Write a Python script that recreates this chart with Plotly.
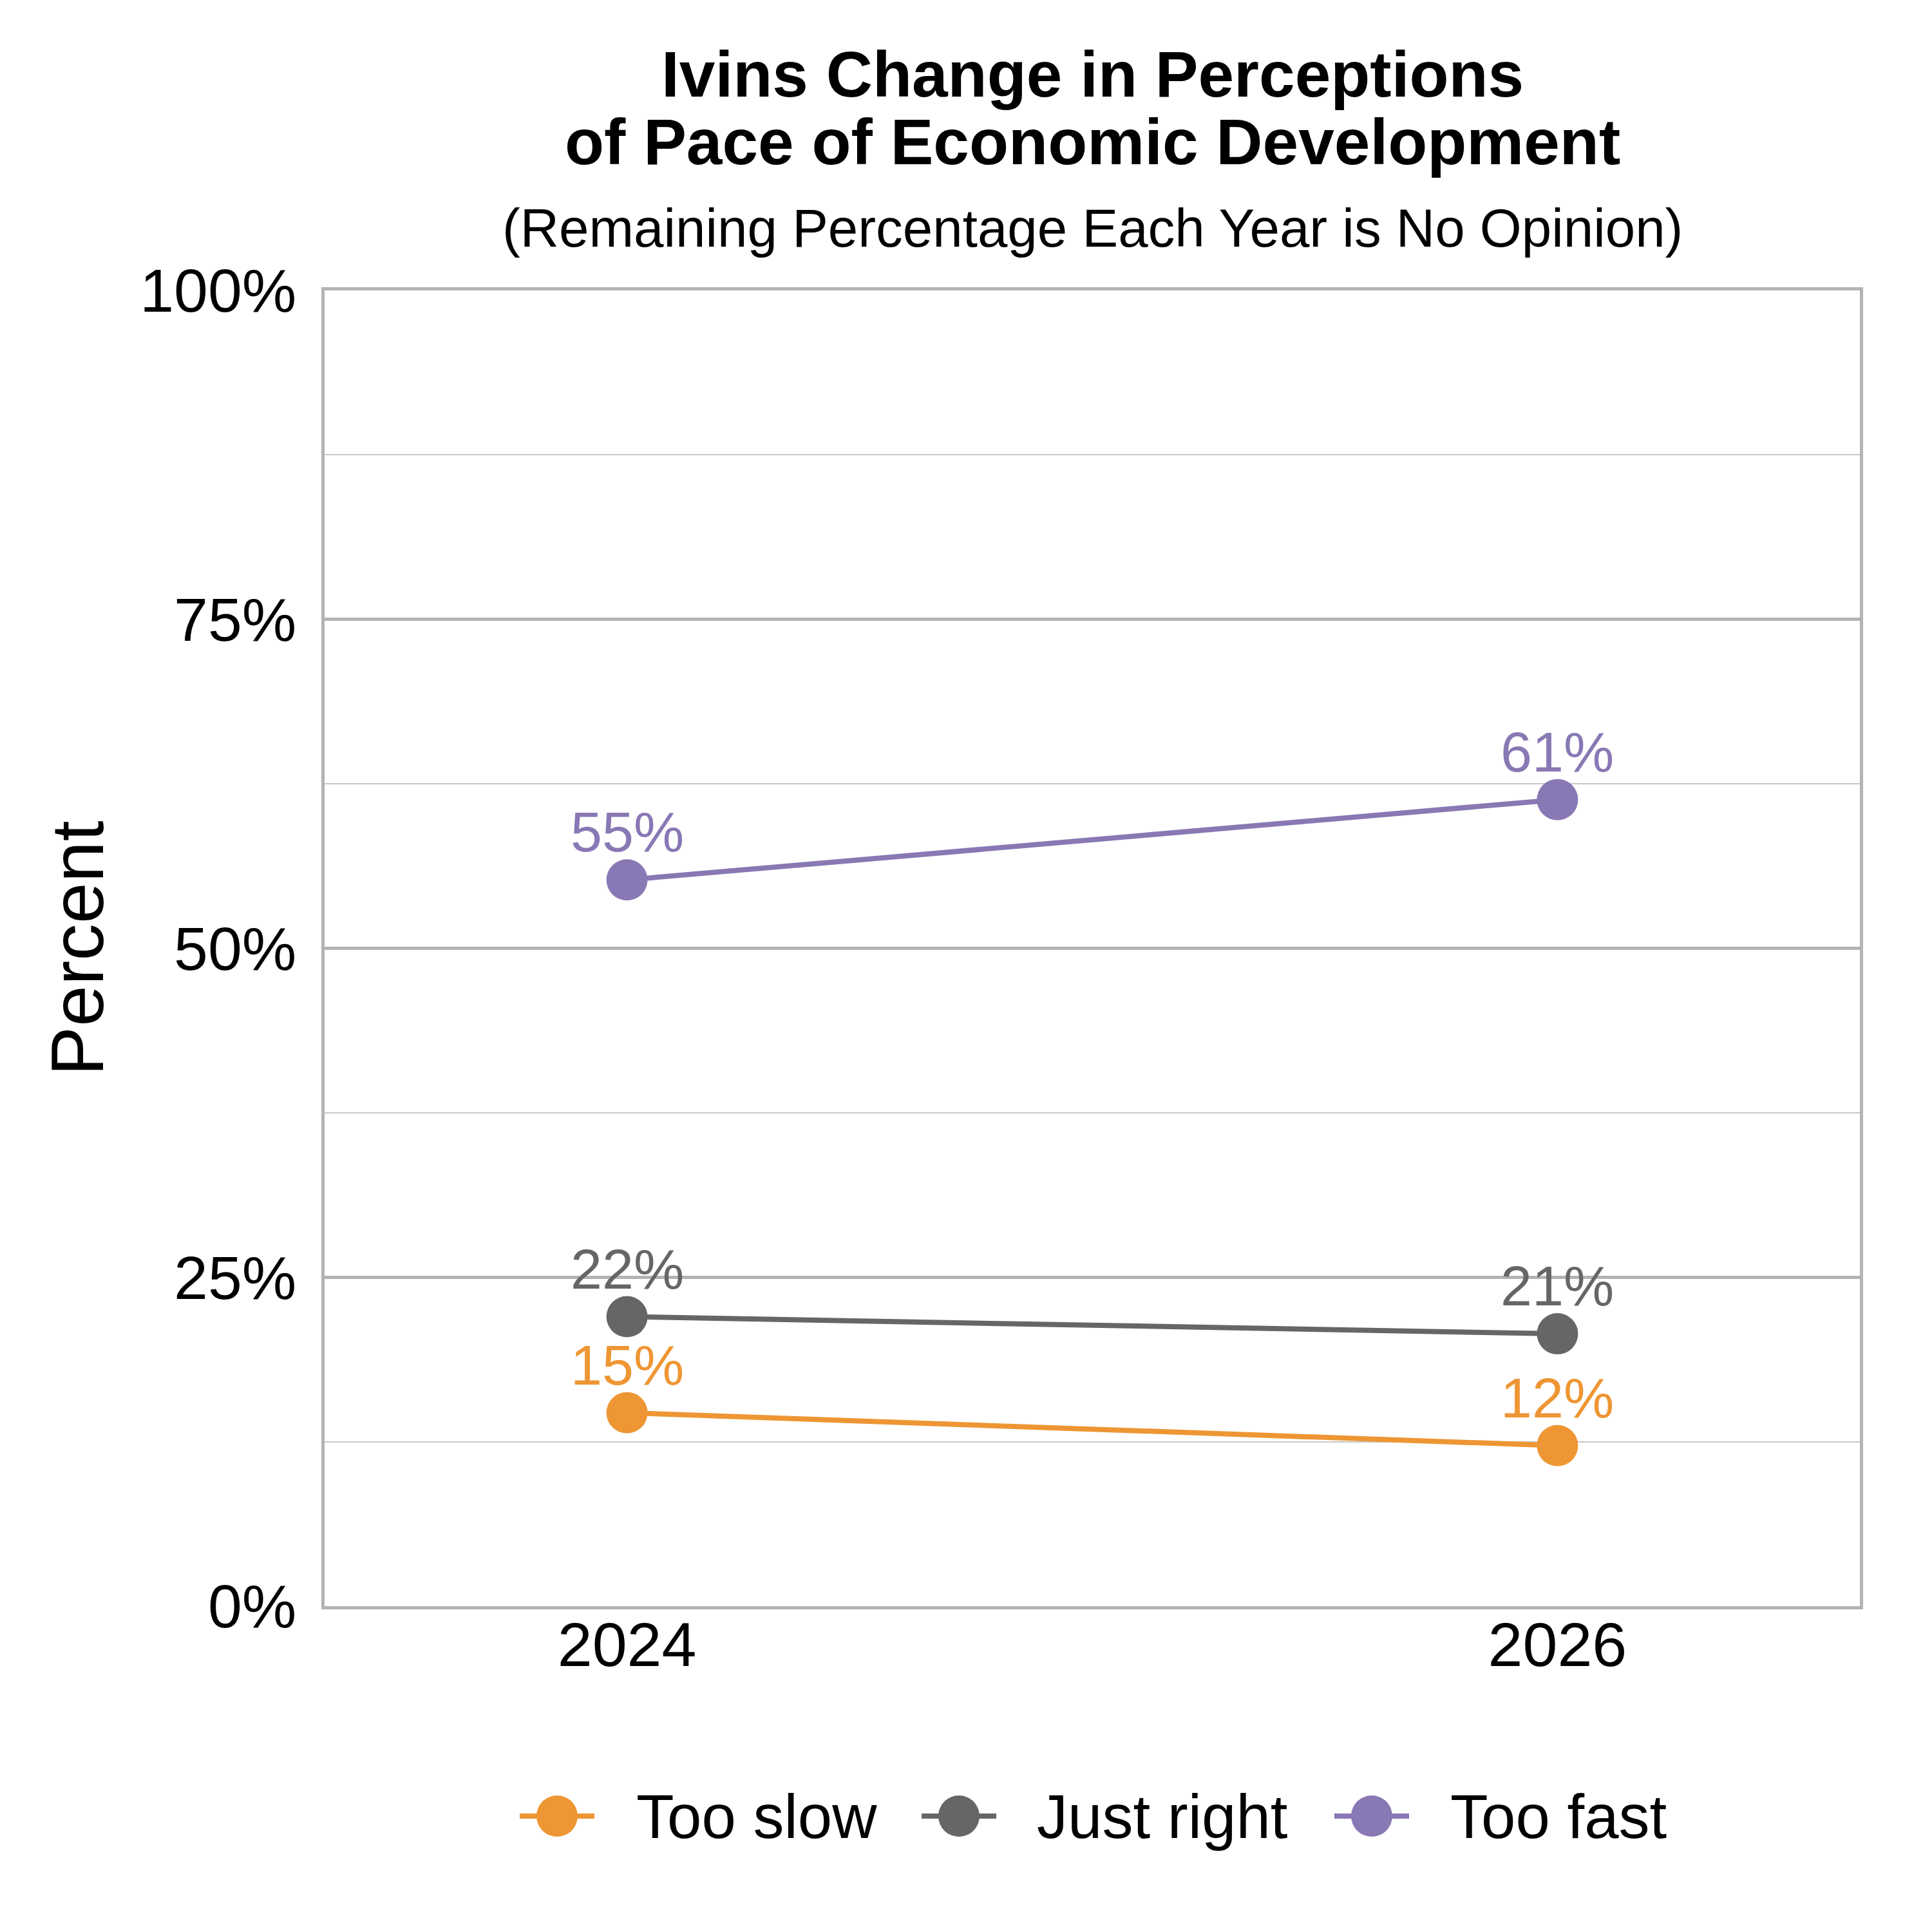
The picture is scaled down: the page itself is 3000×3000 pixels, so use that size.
import plotly.graph_objects as go

# data
years = [2024, 2026]
series_names = ["Too slow", "Just right", "Too fast"]
too_slow = [14.7, 12.2]
just_right = [22.0, 20.7]
too_fast = [55.2, 61.3]
colors = ["#EE9634", "#666666", "#8878B4"]
y_ticks = [0, 25, 50, 75, 100]
y_tick_labels = ["0%", "25%", "50%", "75%", "100%"]

font = "Liberation Sans, Arial, sans-serif"

# plot area in pixels (figure is 3000x3000)
L, R, T, B = 496, 120, 443, 514
PW, PH = 3000 - L - R, 3000 - T - B


def px_x(p):
    return (p - L) / PW


def px_y(p):
    return (3000 - B - p) / PH


fig = go.Figure()
annotations = []
for name, vals, col in zip(series_names, [too_slow, just_right, too_fast], colors):
    fig.add_trace(go.Scatter(
        x=years, y=vals, name=name, mode="lines+markers",
        line=dict(color=col, width=8),
        marker=dict(color=col, size=64),
        showlegend=False,
    ))
    # value labels just above each point
    for x, v in zip(years, vals):
        annotations.append(dict(
            x=x, y=v, xref="x", yref="y", text=f"{round(v)}%", showarrow=False,
            yanchor="bottom", yshift=23, font=dict(color=col, size=88),
        ))

# title block
annotations += [
    dict(text="<b>Ivins Change in Perceptions</b>", x=0.5, y=px_y(107),
         xref="paper", yref="paper", showarrow=False, yanchor="middle", font=dict(size=100)),
    dict(text="<b>of Pace of Economic Development</b>", x=0.5, y=px_y(212),
         xref="paper", yref="paper", showarrow=False, yanchor="middle", font=dict(size=100)),
    dict(text="(Remaining Percentage Each Year is No Opinion)", x=0.5, y=px_y(346),
         xref="paper", yref="paper", showarrow=False, yanchor="middle", font=dict(size=83.5)),
]

# legend drawn by hand so the symbols match the big markers
legend_y = px_y(2812)
legend_symbol_x = [857, 1481, 2122]
legend_text_x = [978, 1600, 2242]
shapes = []
for name, col, sx, tx in zip(series_names, colors, legend_symbol_x, legend_text_x):
    shapes.append(dict(type="line", xref="paper", yref="paper", xsizemode="pixel", ysizemode="pixel",
                       xanchor=px_x(sx), yanchor=legend_y, x0=-58, x1=58, y0=0, y1=0,
                       line=dict(color=col, width=8)))
    shapes.append(dict(type="circle", xref="paper", yref="paper", xsizemode="pixel", ysizemode="pixel",
                       xanchor=px_x(sx), yanchor=legend_y, x0=-32, x1=32, y0=-32, y1=32,
                       fillcolor=col, line=dict(width=0)))
    annotations.append(dict(text=name, x=px_x(tx), y=legend_y, xref="paper", yref="paper",
                            showarrow=False, xanchor="left", yanchor="middle", font=dict(size=96)))

fig.update_layout(
    width=3000, height=3000,
    margin=dict(l=L, r=R, t=T, b=B),
    paper_bgcolor="white", plot_bgcolor="white",
    font=dict(family=font, color="black"),
    showlegend=False,
    annotations=annotations,
    shapes=shapes,
)

fig.update_xaxes(
    range=[2023.35, 2026.65], tickvals=years, ticktext=[str(y) for y in years],
    showgrid=False, zeroline=False, ticks="",
    showline=True, mirror=True, linecolor="#b3b3b3", linewidth=4.5,
    tickfont=dict(size=97), ticklabelstandoff=-28,
)
fig.update_yaxes(
    range=[0, 100], tickvals=y_ticks, ticktext=y_tick_labels,
    showgrid=True, gridcolor="#b3b3b3", gridwidth=4.5, zeroline=False, ticks="",
    minor=dict(dtick=12.5, showgrid=True, gridcolor="#c8c8c8", gridwidth=2.3),
    showline=True, mirror=True, linecolor="#b3b3b3", linewidth=4.5,
    tickfont=dict(size=95), ticklabelstandoff=20,
    title=dict(text="Percent", font=dict(size=115), standoff=20),
)

fig.write_html("out.html")
